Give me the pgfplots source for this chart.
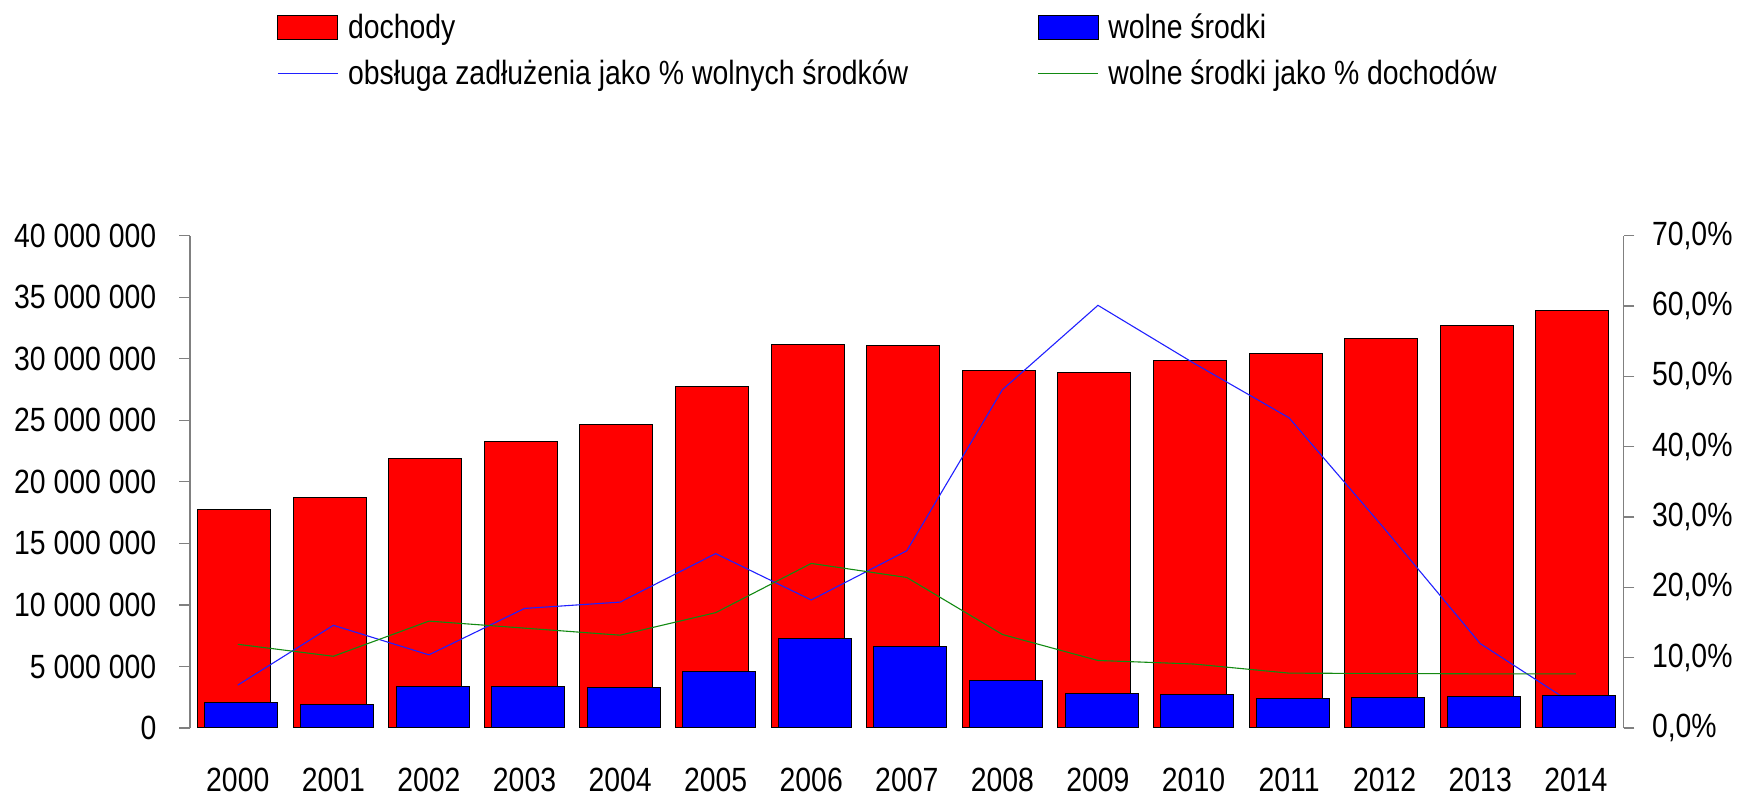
\documentclass[border=0pt]{standalone}
\usepackage{fontspec}
\setmainfont{Liberation Sans}[FakeStretch=0.845]
\usepackage{pgfplots}
\usepackage{pgfplotstable}
\pgfplotsset{compat=1.18}

\definecolor{barred}{HTML}{FF0000}
\definecolor{barblue}{HTML}{0000FF}
\definecolor{lineblue}{HTML}{2020FF}
\definecolor{linegreen}{HTML}{128A12}
\definecolor{axgray}{HTML}{808080}

\pgfplotstableread{
i dochody wolne obs proc
0 17730000 2090000 6.1 11.9
1 18740000 1930000 14.6 10.2
2 21910000 3360000 10.4 15.2
3 23310000 3360000 17.0 14.2
4 24700000 3250000 17.9 13.2
5 27780000 4570000 24.8 16.4
6 31170000 7280000 18.2 23.4
7 31110000 6660000 25.2 21.4
8 29030000 3870000 48.1 13.3
9 28920000 2820000 60.1 9.6
10 29870000 2740000 51.9 9.1
11 30460000 2410000 44.1 7.8
12 31650000 2440000 28.3 7.75
13 32740000 2570000 12.0 7.7
14 33900000 2630000 3.2 7.7
}\datatable

\newcommand{\fs}{\fontsize{16.8pt}{19.5pt}\selectfont}

\pgfplotsset{
  base/.style={
    scale only axis,
    width=716.8pt, height=246.15pt,
    at={(95pt,34.5pt)}, anchor=south west,
    xmin=-0.5, xmax=14.5,
    enlargelimits=false,
    tick label style={font=\fs},
    tick align=outside,
    major tick length=5.35pt,
    tick style={axgray, line width=0.65pt},
    axis line style={axgray, line width=0.65pt},
  },
}

\begin{document}
\begin{tikzpicture}
\useasboundingbox (0,0) rectangle (869.5pt,398.5pt);

% Axis A: left axis with red bars
\begin{axis}[base,
  ymin=0, ymax=40000000,
  axis y line*=left, axis x line*=bottom,
  x axis line style={draw=none},
  xtick={0,...,14},
  xticklabels={2000,2001,2002,2003,2004,2005,2006,2007,2008,2009,2010,2011,2012,2013,2014},
  xtick style={draw=none},
  xticklabel style={anchor=base, inner sep=0pt, yshift=-26.15pt},
  ytick={0,5000000,10000000,15000000,20000000,25000000,30000000,35000000,40000000},
  yticklabels={0,5 000 000,10 000 000,15 000 000,20 000 000,25 000 000,30 000 000,35 000 000,40 000 000},
  yticklabel style={anchor=east, inner sep=0pt, xshift=-11.3pt},
  scaled y ticks=false,
]
\addplot[ybar, bar width=36.5pt, bar shift=-1.8pt, fill=barred, draw=black, line width=0.5pt]
  table[x=i, y=dochody]{\datatable};
\end{axis}

% Axis B: right axis with percentage lines
\begin{axis}[base,
  ymin=0, ymax=70,
  axis y line*=right, axis x line=none,
  ytick={0,10,20,30,40,50,60,70},
  yticklabels={{0,0\%},{10,0\%},{20,0\%},{30,0\%},{40,0\%},{50,0\%},{60,0\%},{70,0\%}},
  yticklabel style={anchor=west, inner sep=0pt, xshift=8.65pt},
]
\addplot[lineblue, line width=0.55pt, mark=none] table[x=i, y=obs]{\datatable};
\addplot[linegreen, line width=0.55pt, mark=none] table[x=i, y=proc]{\datatable};
\end{axis}

% Axis C: blue bars on top, legend
\begin{axis}[base,
  ymin=0, ymax=40000000,
  hide axis,
  legend columns=2,
  legend cell align=left,
  legend style={
    at={(0,1)}, anchor=north west,
    xshift=43.65pt, yshift=111.2pt,
    draw=none, fill=none, inner sep=0pt, outer sep=0pt,
    font=\fs,
    row sep=8.7pt,
    nodes={inner sep=0pt, text height=12.5pt, text depth=1.7pt},
    /tikz/every odd column/.append style={column sep=4.8pt},
    /tikz/every even column/.append style={column sep=0pt},
  },
]
\addlegendimage{legend image code/.code={\draw[fill=barred, draw=black, line width=0.5pt] (0pt,-5.9pt) rectangle (30pt,5.9pt);}}
\addlegendentry{\makebox[344.85pt][l]{dochody}}
\addplot[ybar, bar width=36.5pt, bar shift=1.8pt, fill=barblue, draw=black, line width=0.5pt,
  legend image code/.code={\draw[fill=barblue, draw=black, line width=0.5pt] (0pt,-5.9pt) rectangle (30pt,5.9pt);}]
  table[x=i, y=wolne]{\datatable};
\addlegendentry{wolne środki}
\addlegendimage{legend image code/.code={\draw[lineblue, line width=0.55pt] (0pt,0pt) -- (30pt,0pt);}}
\addlegendentry{\makebox[344.85pt][l]{obsługa zadłużenia jako \% wolnych środków}}
\addlegendimage{legend image code/.code={\draw[linegreen, line width=0.55pt] (0pt,0pt) -- (30pt,0pt);}}
\addlegendentry{wolne środki jako \% dochodów}
\end{axis}
\end{tikzpicture}
\end{document}
